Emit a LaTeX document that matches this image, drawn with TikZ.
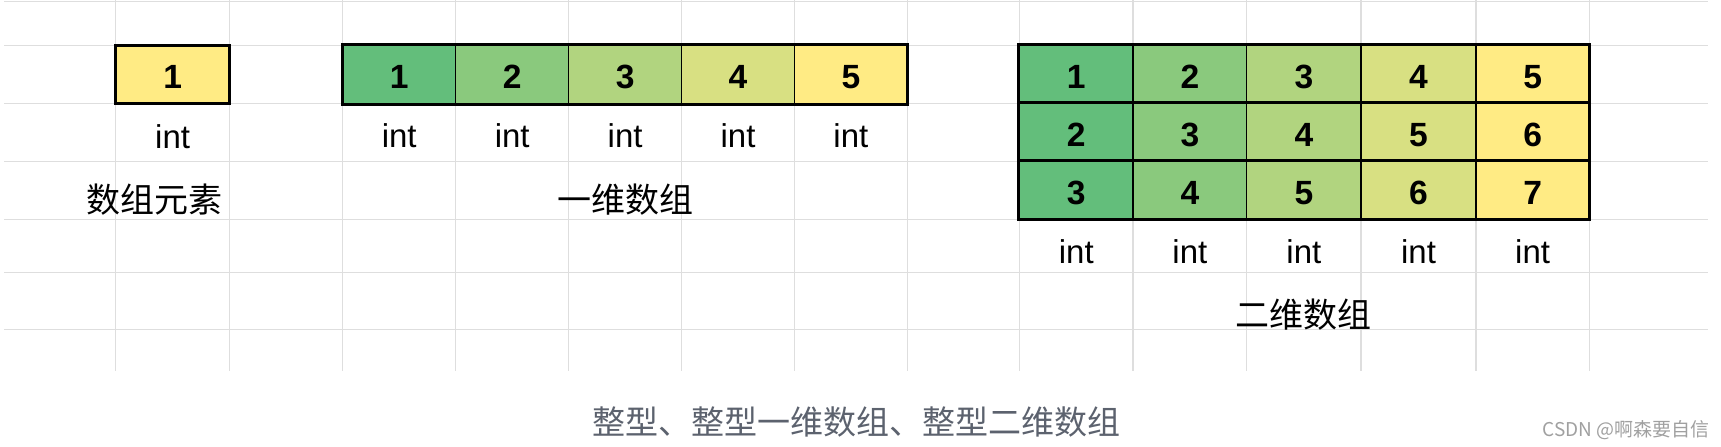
\documentclass[tikz,border=0pt]{standalone}
\usepackage{fontspec}
\setmainfont{Liberation Sans}
\newfontfamily\cjk{Noto Sans CJK SC}
\usetikzlibrary{positioning}
\definecolor{gA}{HTML}{63BE7B}
\definecolor{gB}{HTML}{8AC97D}
\definecolor{gC}{HTML}{B1D47F}
\definecolor{gD}{HTML}{D8E082}
\definecolor{gE}{HTML}{FFEB84}
\definecolor{gridc}{RGB}{222,222,222}
\definecolor{capc}{RGB}{92,98,110}
\definecolor{markc}{RGB}{160,160,160}

\begin{document}
\begin{tikzpicture}[x=0.5pt,y=-0.5pt,
    cell/.style={rectangle,inner sep=0pt,minimum width=56.6pt,text height=21.45pt,text depth=7.5pt},
    num/.style={cell,draw=black,line width=0.65pt,font=\fontsize{16.8}{16.8}\selectfont\bfseries},
    tname/.style={cell,font=\fontsize{16.5}{16.5}\selectfont},
    lbl/.style={cell,text height=24.45pt,text depth=4.5pt,font=\cjk\fontsize{17}{17}\selectfont},
    thickbox/.style={draw=black,line width=1.5pt}]
  \useasboundingbox (0,0) rectangle (1721,446);
  \foreach \y in {1.7,45.5,103.4,161.4,219.3,272.7,329.3}
    \draw[gridc,line width=0.6pt] (4,\y) -- (1708,\y);
  \foreach \x in {115.7,229.5,342.7,455.7,568.7,681.6,794.5,907.2,1019.6,1133,1246.7,1361,1476,1589.3}
    \draw[gridc,line width=0.6pt] (\x,0) -- (\x,371);

  \node[num,fill=gE,line width=1.5pt,minimum width=56.9pt] (elem) at (172.6,74.45) {1};
  \node[tname,below=0pt of elem] (ielem) {int};
  \node[lbl,below=0pt of ielem,xshift=-9pt] (lelem) {数组元素};

  \foreach \n/\xa/\xb/\c in {1/342.7/455.7/gA,2/455.7/568.7/gB,3/568.7/681.6/gC,4/681.6/794.5/gD,5/794.5/907.2/gE} {
    \node[num,fill=\c,minimum width={0.5pt*(\xb-\xa)}] (a\n) at ({(\xa+\xb)/2},74.45) {\n};
    \node[tname,below=0pt of a\n] (ia\n) {int};
  }
  \draw[thickbox] (a1.north west) rectangle (a5.south east);
  \node[lbl,below=0pt of ia3] (la) {一维数组};

  \foreach \r/\y in {1/74.45,2/132.4,3/190.35} {
    \foreach \k/\xa/\xb/\c in {1/1019.6/1133/gA,2/1133/1246.7/gB,3/1246.7/1361/gC,4/1361/1476/gD,5/1476/1589.3/gE} {
      \pgfmathtruncatemacro\v{\r+\k-1}
      \node[num,fill=\c,minimum width={0.5pt*(\xb-\xa)}] (b\r\k) at ({(\xa+\xb)/2},\y) {\v};
    }
    \draw[thickbox] (b\r1.north west) rectangle (b\r5.south east);
  }
  \foreach \k in {1,...,5}
    \node[tname,below=0pt of b3\k] (ib\k) {int};
  \node[lbl,below=0pt of ib3] (lb) {二维数组};

  \node[anchor=base,inner sep=0pt,text=capc,font=\cjk\fontsize{16.5}{16.5}\selectfont] (cap) at (856.7,434.6) {整型、整型一维数组、整型二维数组};
  \node[anchor=base east,inner sep=0pt,text=markc,font=\cjk\fontsize{9.5}{9.5}\selectfont] (mark) at (1710,436) {CSDN @啊森要自信};
\end{tikzpicture}
\end{document}
